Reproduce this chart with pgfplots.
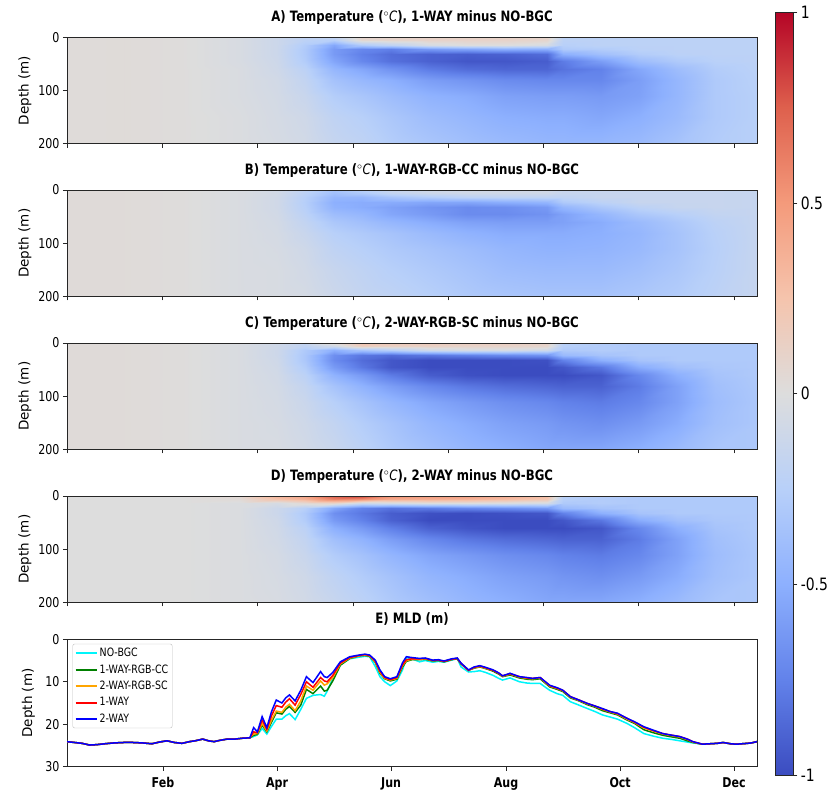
\documentclass[border=0pt]{standalone}
\usepackage{fontspec}
\setmainfont{DejaVu Sans}[FakeStretch=0.82]
\newfontfamily\ylfont{DejaVu Sans}
\usepackage{pgfplots}
\pgfplotsset{compat=1.18}

\definecolor{cNO}{RGB}{0,245,250}
\definecolor{cCC}{RGB}{0,128,0}
\definecolor{cSC}{RGB}{255,165,0}
\definecolor{cONE}{RGB}{255,0,0}
\definecolor{cTWO}{RGB}{0,0,255}

\pgfplotsset{
  colormap={coolwarm}{rgb255=(59,76,192) rgb255=(98,130,234) rgb255=(141,176,254)
    rgb255=(184,208,249) rgb255=(221,221,221) rgb255=(245,196,173)
    rgb255=(244,154,123) rgb255=(222,96,77) rgb255=(180,4,38)},
  base/.style={scale only axis, width=690pt, enlargelimits=false,
    tick align=outside, tick pos=left, major tick length=4pt,
    axis line style={black!85, line width=0.8pt},
    tick style={black!85, line width=0.8pt},
    /pgf/number format/assume math mode=true,
    tick label style={font=\fontsize{13.5}{15}\selectfont},
    title style={at={(0.5,1)}, anchor=base, yshift=9.5pt,
      font=\bfseries\fontsize{14.3}{16}\selectfont},
    every axis y label/.style={at={(axis description cs:-0.061,0.5)},
      rotate=90, anchor=center, font=\ylfont\fontsize{13.5}{15}\selectfont},
    ylabel={Depth (m)}},
  panel/.style={base, height=106.5pt, xmin=0, xmax=362, ymin=0, ymax=200,
    y dir=reverse, axis on top, xtick={0,50,...,350}, xticklabels={},
    ytick={0,100,200}, colormap name=coolwarm,
    point meta min=-1, point meta max=1},
  heat/.style={surf, shader=interp, point meta=explicit},
}
\newcommand\degC{(\textnormal{\textsuperscript{$\circ$}\textit{C}})}

\pgfplotstableread{
day  nobgc cc   sc   one  two
0    24.1 24.1 24.1 24.1 24.1
4    24.3 24.3 24.3 24.3 24.3
8    24.5 24.5 24.5 24.5 24.5
12   24.9 24.9 24.9 24.9 24.9
16   24.8 24.8 24.8 24.8 24.8
20   24.6 24.6 24.6 24.6 24.6
25   24.4 24.4 24.4 24.4 24.4
30   24.3 24.3 24.3 24.3 24.3
35   24.3 24.3 24.3 24.3 24.3
40   24.4 24.4 24.4 24.4 24.4
45   24.6 24.6 24.6 24.6 24.6
49   24.2 24.2 24.2 24.2 24.2
53   23.9 23.9 23.9 23.9 23.9
57   24.3 24.3 24.3 24.3 24.3
61   24.5 24.5 24.5 24.5 24.5
65   24.1 24.1 24.1 24.1 24.1
68   23.9 23.9 23.9 23.9 23.9
72   23.5 23.5 23.5 23.5 23.5
75   23.9 23.9 23.9 23.9 23.9
78   24.1 24.1 24.1 24.1 24.1
81   23.8 23.8 23.8 23.8 23.8
85   23.5 23.5 23.5 23.5 23.5
89   23.5 23.5 23.5 23.5 23.5
93   23.3 23.3 23.3 23.3 23.3
97   23.2 23.2 23.2 23.2 23.2
99   22.9 22.6 22.3 21.8 20.8
101  22.5 22.4 22.2 22.0 21.8
103.5 21.0 20.2 19.8 19.0 18.2
106  22.3 21.8 21.6 21.2 20.8
108.5 20.5 19.5 19.0 18.0 17.0
111  18.8 17.3 16.9 15.6 14.3
114  18.8 17.6 17.2 16.0 15.0
116  18.0 16.5 16.0 14.8 13.8
118  17.5 15.8 15.3 14.0 13.1
121  18.9 17.2 16.8 15.5 14.5
124  16.5 15.5 14.5 13.0 12.0
127  13.9 11.8 11.0 10.0 8.8
130.5 13.2 12.8 12.0 11.3 10.2
134.5 13.0 11.0 9.8 9.0 7.6
136.5 13.4 12.2 10.8 9.8 8.8
138  12.2 12.0 10.5 10.0 9.0
141  9.2  9.8  9.0  8.5  7.8
145  6.0  6.1  5.8  5.6  5.3
150  4.6  4.5  4.4  4.3  4.1
155  4.2  3.9  3.9  3.8  3.7
158  4.0  3.8  3.7  3.6  3.5
160.5 4.1 4.0  3.9  3.8  3.7
163.5 6.4 5.4  5.3  5.1  4.9
166  8.8  8.0  7.8  7.5  7.2
168.5 10.0 9.3 9.2  9.0  8.8
171.5 10.9 9.8 9.6  9.5  9.3
175  9.8  9.4  9.2  9.0  8.8
178  7.2  6.5  6.2  6.0  5.5
180  4.3  5.2  5.0  4.8  4.1
183  4.6  4.8  4.7  4.6  4.3
187  5.3  4.8  4.7  4.6  4.5
190  5.0  4.7  4.6  4.5  4.4
194  5.4  5.1  5.0  5.0  4.9
197  5.2  5.0  4.9  4.9  4.8
200  5.4  5.3  5.2  5.2  5.1
204  4.9  4.8  4.7  4.7  4.6
207  4.5  4.6  4.5  4.5  4.4
209  6.5  5.8  5.7  5.7  5.6
213  7.7  7.3  7.3  7.3  7.2
216  7.6  6.8  6.7  6.6  6.5
219  7.4  6.5  6.4  6.3  6.2
222  7.8  6.9  6.8  6.7  6.6
226  8.5  7.5  7.3  7.3  7.2
229  9.2  8.2  8.0  8.0  7.9
231  9.6  8.8  8.7  8.6  8.6
235  9.1  8.4  8.2  8.1  8.0
240  10.0 9.1  8.9  8.8  8.8
244  10.3 9.4  9.2  9.1  9.0
247  10.4 9.5  9.3  9.2  9.2
251  10.4 9.3  9.1  9.0  9.0
256  12.0 11.2 11.0 10.9 10.8
260  12.8 11.8 11.6 11.5 11.4
263  13.2 12.3 12.1 12.0 12.0
267  14.7 13.8 13.6 13.5 13.5
271  15.4 14.4 14.3 14.2 14.2
276  16.3 15.4 15.2 15.1 15.1
280  17.0 16.0 15.8 15.7 15.7
284  17.8 16.8 16.5 16.4 16.3
288  18.3 17.3 17.1 17.0 17.0
292  18.8 17.8 17.6 17.5 17.4
297  19.8 19.0 18.8 18.6 18.6
301  20.8 19.8 19.6 19.5 19.4
306  22.2 21.3 20.9 20.7 20.6
311  22.8 22.0 21.6 21.5 21.4
316  23.3 22.6 22.3 22.2 22.2
321  23.6 23.0 22.7 22.6 22.6
325  23.9 23.3 23.0 22.9 22.9
329  24.2 23.9 23.6 23.5 23.5
332  24.4 24.3 24.2 24.1 24.1
337  24.7 24.7 24.7 24.7 24.7
341  24.6 24.6 24.6 24.6 24.6
345  24.5 24.5 24.5 24.5 24.5
348  24.3 24.3 24.3 24.3 24.3
352  24.6 24.6 24.6 24.6 24.6
355  24.7 24.7 24.7 24.7 24.7
358  24.6 24.6 24.6 24.6 24.6
361  24.5 24.5 24.5 24.5 24.5
363  24.4 24.4 24.4 24.4 24.4
366  24.1 24.1 24.1 24.1 24.1
}\mld

\begin{document}
\begin{tikzpicture}
\useasboundingbox (0,0) rectangle (828pt,-791pt);

% A) 1-WAY minus NO-BGC
\begin{axis}[panel, at={(67pt,-37.3pt)}, anchor=north west,
  title={A) Temperature \degC, 1-WAY minus NO-BGC}]
\addplot[heat] coordinates {
(0,0)[0.02] (0,6)[0.02] (0,14)[0.02] (0,22)[0.02] (0,32)[0.02] (0,45)[0.02] (0,60)[0.02] (0,80)[0.02] (0,110)[0.02] (0,150)[0.02] (0,200)[0.02]

(30,0)[0.025] (30,6)[0.025] (30,14)[0.025] (30,22)[0.025] (30,32)[0.025] (30,45)[0.025] (30,60)[0.025] (30,80)[0.025] (30,110)[0.025] (30,150)[0.025] (30,200)[0.025]

(60,0)[0.01] (60,6)[0.01] (60,14)[0.01] (60,22)[0.01] (60,32)[0.01] (60,45)[0.01] (60,60)[0.01] (60,80)[0.01] (60,110)[0.01] (60,150)[0.01] (60,200)[0.01]

(90,0)[-0.04] (90,6)[-0.04] (90,14)[-0.04] (90,22)[-0.04] (90,32)[-0.04] (90,45)[-0.04] (90,60)[-0.03] (90,80)[-0.03] (90,110)[-0.03] (90,150)[-0.02] (90,200)[-0.02]

(110,0)[-0.12] (110,6)[-0.12] (110,14)[-0.12] (110,22)[-0.12] (110,32)[-0.12] (110,45)[-0.11] (110,60)[-0.1] (110,80)[-0.08] (110,110)[-0.07] (110,150)[-0.06] (110,200)[-0.05]

(125,0)[-0.2] (125,6)[-0.22] (125,14)[-0.28] (125,22)[-0.3] (125,32)[-0.3] (125,45)[-0.28] (125,60)[-0.22] (125,80)[-0.18] (125,110)[-0.14] (125,150)[-0.1] (125,200)[-0.08]

(140,0)[-0.18] (140,6)[-0.25] (140,14)[-0.55] (140,22)[-0.62] (140,32)[-0.62] (140,45)[-0.56] (140,60)[-0.45] (140,80)[-0.36] (140,110)[-0.27] (140,150)[-0.2] (140,200)[-0.16]

(155,0)[0.1] (155,6)[0.06] (155,14)[-0.3] (155,22)[-0.72] (155,32)[-0.76] (155,45)[-0.72] (155,60)[-0.55] (155,80)[-0.44] (155,110)[-0.33] (155,150)[-0.25] (155,200)[-0.2]

(170,0)[0.1] (170,6)[0.08] (170,14)[-0.2] (170,22)[-0.76] (170,32)[-0.85] (170,45)[-0.83] (170,60)[-0.66] (170,80)[-0.5] (170,110)[-0.4] (170,150)[-0.32] (170,200)[-0.27]

(190,0)[0.12] (190,6)[0.1] (190,14)[-0.05] (190,22)[-0.62] (190,32)[-0.9] (190,45)[-0.9] (190,60)[-0.78] (190,80)[-0.6] (190,110)[-0.48] (190,150)[-0.4] (190,200)[-0.33]

(210,0)[0.12] (210,6)[0.1] (210,14)[0] (210,22)[-0.56] (210,32)[-0.92] (210,45)[-0.95] (210,60)[-0.85] (210,80)[-0.65] (210,110)[-0.52] (210,150)[-0.45] (210,200)[-0.38]

(230,0)[0.12] (230,6)[0.1] (230,14)[0] (230,22)[-0.5] (230,32)[-0.9] (230,45)[-0.95] (230,60)[-0.88] (230,80)[-0.7] (230,110)[-0.58] (230,150)[-0.5] (230,200)[-0.42]

(252,0)[0.1] (252,6)[0.08] (252,14)[-0.05] (252,22)[-0.5] (252,32)[-0.85] (252,45)[-0.92] (252,60)[-0.88] (252,80)[-0.72] (252,110)[-0.6] (252,150)[-0.52] (252,200)[-0.45]

(260,0)[-0.22] (260,6)[-0.22] (260,14)[-0.25] (260,22)[-0.3] (260,32)[-0.5] (260,45)[-0.78] (260,60)[-0.82] (260,80)[-0.72] (260,110)[-0.6] (260,150)[-0.52] (260,200)[-0.45]

(280,0)[-0.22] (280,6)[-0.22] (280,14)[-0.22] (280,22)[-0.28] (280,32)[-0.38] (280,45)[-0.6] (280,60)[-0.75] (280,80)[-0.72] (280,110)[-0.62] (280,150)[-0.55] (280,200)[-0.45]

(300,0)[-0.22] (300,6)[-0.22] (300,14)[-0.22] (300,22)[-0.23] (300,32)[-0.28] (300,45)[-0.4] (300,60)[-0.55] (300,80)[-0.6] (300,110)[-0.58] (300,150)[-0.5] (300,200)[-0.42]

(320,0)[-0.22] (320,6)[-0.22] (320,14)[-0.22] (320,22)[-0.22] (320,32)[-0.23] (320,45)[-0.3] (320,60)[-0.4] (320,80)[-0.45] (320,110)[-0.45] (320,150)[-0.42] (320,200)[-0.35]

(340,0)[-0.22] (340,6)[-0.22] (340,14)[-0.22] (340,22)[-0.22] (340,32)[-0.22] (340,45)[-0.24] (340,60)[-0.28] (340,80)[-0.3] (340,110)[-0.3] (340,150)[-0.3] (340,200)[-0.28]

(362,0)[-0.22] (362,6)[-0.22] (362,14)[-0.22] (362,22)[-0.22] (362,32)[-0.22] (362,45)[-0.22] (362,60)[-0.23] (362,80)[-0.24] (362,110)[-0.25] (362,150)[-0.25] (362,200)[-0.25]
};
\end{axis}

% B) 1-WAY-RGB-CC minus NO-BGC
\begin{axis}[panel, at={(67pt,-190pt)}, anchor=north west,
  title={B) Temperature \degC, 1-WAY-RGB-CC minus NO-BGC}]
\addplot[heat] coordinates {
(0,0)[0.025] (0,6)[0.025] (0,14)[0.025] (0,22)[0.025] (0,32)[0.025] (0,45)[0.025] (0,60)[0.025] (0,80)[0.025] (0,110)[0.025] (0,150)[0.025] (0,200)[0.025]

(30,0)[0.025] (30,6)[0.025] (30,14)[0.025] (30,22)[0.025] (30,32)[0.025] (30,45)[0.025] (30,60)[0.025] (30,80)[0.025] (30,110)[0.025] (30,150)[0.025] (30,200)[0.025]

(60,0)[0.01] (60,6)[0.01] (60,14)[0.01] (60,22)[0.01] (60,32)[0.01] (60,45)[0.01] (60,60)[0.01] (60,80)[0.01] (60,110)[0.01] (60,150)[0.01] (60,200)[0.01]

(90,0)[-0.03] (90,6)[-0.03] (90,14)[-0.03] (90,22)[-0.03] (90,32)[-0.03] (90,45)[-0.03] (90,60)[-0.03] (90,80)[-0.03] (90,110)[-0.03] (90,150)[-0.03] (90,200)[-0.03]

(110,0)[-0.08] (110,6)[-0.08] (110,14)[-0.09] (110,22)[-0.09] (110,32)[-0.09] (110,45)[-0.08] (110,60)[-0.07] (110,80)[-0.06] (110,110)[-0.05] (110,150)[-0.04] (110,200)[-0.04]

(125,0)[-0.2] (125,6)[-0.22] (125,14)[-0.25] (125,22)[-0.26] (125,32)[-0.25] (125,45)[-0.22] (125,60)[-0.18] (125,80)[-0.14] (125,110)[-0.1] (125,150)[-0.08] (125,200)[-0.06]

(140,0)[-0.35] (140,6)[-0.38] (140,14)[-0.45] (140,22)[-0.5] (140,32)[-0.48] (140,45)[-0.4] (140,60)[-0.32] (140,80)[-0.25] (140,110)[-0.2] (140,150)[-0.15] (140,200)[-0.12]

(155,0)[-0.25] (155,6)[-0.3] (155,14)[-0.45] (155,22)[-0.52] (155,32)[-0.52] (155,45)[-0.45] (155,60)[-0.38] (155,80)[-0.3] (155,110)[-0.25] (155,150)[-0.2] (155,200)[-0.17]

(170,0)[-0.15] (170,6)[-0.18] (170,14)[-0.35] (170,22)[-0.52] (170,32)[-0.58] (170,45)[-0.55] (170,60)[-0.45] (170,80)[-0.35] (170,110)[-0.3] (170,150)[-0.25] (170,200)[-0.2]

(190,0)[-0.1] (190,6)[-0.12] (190,14)[-0.28] (190,22)[-0.55] (190,32)[-0.65] (190,45)[-0.62] (190,60)[-0.52] (190,80)[-0.42] (190,110)[-0.35] (190,150)[-0.3] (190,200)[-0.25]

(210,0)[-0.08] (210,6)[-0.1] (210,14)[-0.22] (210,22)[-0.55] (210,32)[-0.7] (210,45)[-0.7] (210,60)[-0.58] (210,80)[-0.48] (210,110)[-0.4] (210,150)[-0.35] (210,200)[-0.3]

(230,0)[-0.08] (230,6)[-0.1] (230,14)[-0.2] (230,22)[-0.5] (230,32)[-0.68] (230,45)[-0.7] (230,60)[-0.6] (230,80)[-0.52] (230,110)[-0.45] (230,150)[-0.4] (230,200)[-0.33]

(252,0)[-0.08] (252,6)[-0.1] (252,14)[-0.2] (252,22)[-0.45] (252,32)[-0.62] (252,45)[-0.66] (252,60)[-0.6] (252,80)[-0.52] (252,110)[-0.48] (252,150)[-0.42] (252,200)[-0.35]

(260,0)[-0.15] (260,6)[-0.15] (260,14)[-0.2] (260,22)[-0.3] (260,32)[-0.45] (260,45)[-0.58] (260,60)[-0.58] (260,80)[-0.52] (260,110)[-0.48] (260,150)[-0.42] (260,200)[-0.35]

(280,0)[-0.15] (280,6)[-0.15] (280,14)[-0.15] (280,22)[-0.22] (280,32)[-0.32] (280,45)[-0.45] (280,60)[-0.52] (280,80)[-0.5] (280,110)[-0.47] (280,150)[-0.42] (280,200)[-0.35]

(300,0)[-0.15] (300,6)[-0.15] (300,14)[-0.15] (300,22)[-0.15] (300,32)[-0.22] (300,45)[-0.32] (300,60)[-0.42] (300,80)[-0.45] (300,110)[-0.43] (300,150)[-0.38] (300,200)[-0.32]

(320,0)[-0.15] (320,6)[-0.15] (320,14)[-0.15] (320,22)[-0.15] (320,32)[-0.16] (320,45)[-0.25] (320,60)[-0.32] (320,80)[-0.35] (320,110)[-0.35] (320,150)[-0.32] (320,200)[-0.28]

(340,0)[-0.15] (340,6)[-0.15] (340,14)[-0.15] (340,22)[-0.15] (340,32)[-0.15] (340,45)[-0.18] (340,60)[-0.22] (340,80)[-0.24] (340,110)[-0.25] (340,150)[-0.24] (340,200)[-0.22]

(362,0)[-0.16] (362,6)[-0.16] (362,14)[-0.16] (362,22)[-0.16] (362,32)[-0.16] (362,45)[-0.16] (362,60)[-0.16] (362,80)[-0.16] (362,110)[-0.16] (362,150)[-0.16] (362,200)[-0.16]
};
\end{axis}

% C) 2-WAY-RGB-SC minus NO-BGC
\begin{axis}[panel, at={(67pt,-343pt)}, anchor=north west,
  title={C) Temperature \degC, 2-WAY-RGB-SC minus NO-BGC}]
\addplot[heat] coordinates {
(0,0)[0.025] (0,6)[0.025] (0,14)[0.025] (0,22)[0.025] (0,32)[0.025] (0,45)[0.025] (0,60)[0.025] (0,80)[0.025] (0,110)[0.025] (0,150)[0.025] (0,200)[0.025]

(30,0)[0.025] (30,6)[0.025] (30,14)[0.025] (30,22)[0.025] (30,32)[0.025] (30,45)[0.025] (30,60)[0.025] (30,80)[0.025] (30,110)[0.025] (30,150)[0.025] (30,200)[0.025]

(60,0)[0.01] (60,6)[0.01] (60,14)[0.01] (60,22)[0.01] (60,32)[0.01] (60,45)[0.01] (60,60)[0.01] (60,80)[0.01] (60,110)[0.01] (60,150)[0.01] (60,200)[0.01]

(90,0)[-0.03] (90,6)[-0.03] (90,14)[-0.03] (90,22)[-0.03] (90,32)[-0.03] (90,45)[-0.03] (90,60)[-0.03] (90,80)[-0.03] (90,110)[-0.03] (90,150)[-0.03] (90,200)[-0.03]

(110,0)[-0.1] (110,6)[-0.1] (110,14)[-0.11] (110,22)[-0.11] (110,32)[-0.1] (110,45)[-0.09] (110,60)[-0.08] (110,80)[-0.07] (110,110)[-0.06] (110,150)[-0.05] (110,200)[-0.04]

(125,0)[-0.18] (125,6)[-0.2] (125,14)[-0.3] (125,22)[-0.32] (125,32)[-0.32] (125,45)[-0.28] (125,60)[-0.22] (125,80)[-0.17] (125,110)[-0.13] (125,150)[-0.1] (125,200)[-0.08]

(140,0)[0.05] (140,6)[-0.1] (140,14)[-0.5] (140,22)[-0.68] (140,32)[-0.7] (140,45)[-0.62] (140,60)[-0.48] (140,80)[-0.35] (140,110)[-0.25] (140,150)[-0.18] (140,200)[-0.14]

(155,0)[0.25] (155,6)[0.15] (155,14)[-0.35] (155,22)[-0.8] (155,32)[-0.85] (155,45)[-0.8] (155,60)[-0.62] (155,80)[-0.48] (155,110)[-0.35] (155,150)[-0.27] (155,200)[-0.22]

(170,0)[0.2] (170,6)[0.12] (170,14)[-0.25] (170,22)[-0.85] (170,32)[-0.95] (170,45)[-0.95] (170,60)[-0.78] (170,80)[-0.6] (170,110)[-0.45] (170,150)[-0.35] (170,200)[-0.3]

(190,0)[0.18] (190,6)[0.12] (190,14)[-0.1] (190,22)[-0.8] (190,32)[-1] (190,45)[-1] (190,60)[-0.92] (190,80)[-0.72] (190,110)[-0.55] (190,150)[-0.45] (190,200)[-0.38]

(210,0)[0.15] (210,6)[0.1] (210,14)[-0.05] (210,22)[-0.75] (210,32)[-1] (210,45)[-1] (210,60)[-0.98] (210,80)[-0.8] (210,110)[-0.62] (210,150)[-0.52] (210,200)[-0.45]

(230,0)[0.15] (230,6)[0.1] (230,14)[-0.05] (230,22)[-0.7] (230,32)[-1] (230,45)[-1] (230,60)[-1] (230,80)[-0.85] (230,110)[-0.68] (230,150)[-0.58] (230,200)[-0.5]

(252,0)[0.12] (252,6)[0.08] (252,14)[-0.1] (252,22)[-0.65] (252,32)[-0.98] (252,45)[-1] (252,60)[-1] (252,80)[-0.88] (252,110)[-0.72] (252,150)[-0.62] (252,200)[-0.55]

(260,0)[-0.25] (260,6)[-0.25] (260,14)[-0.3] (260,22)[-0.42] (260,32)[-0.75] (260,45)[-0.95] (260,60)[-1] (260,80)[-0.9] (260,110)[-0.75] (260,150)[-0.65] (260,200)[-0.55]

(280,0)[-0.28] (280,6)[-0.28] (280,14)[-0.28] (280,22)[-0.35] (280,32)[-0.5] (280,45)[-0.8] (280,60)[-0.95] (280,80)[-0.9] (280,110)[-0.78] (280,150)[-0.68] (280,200)[-0.55]

(300,0)[-0.3] (300,6)[-0.3] (300,14)[-0.3] (300,22)[-0.3] (300,32)[-0.35] (300,45)[-0.52] (300,60)[-0.72] (300,80)[-0.78] (300,110)[-0.72] (300,150)[-0.62] (300,200)[-0.5]

(320,0)[-0.3] (320,6)[-0.3] (320,14)[-0.3] (320,22)[-0.3] (320,32)[-0.3] (320,45)[-0.38] (320,60)[-0.5] (320,80)[-0.58] (320,110)[-0.58] (320,150)[-0.52] (320,200)[-0.42]

(340,0)[-0.3] (340,6)[-0.3] (340,14)[-0.3] (340,22)[-0.3] (340,32)[-0.3] (340,45)[-0.32] (340,60)[-0.35] (340,80)[-0.38] (340,110)[-0.4] (340,150)[-0.38] (340,200)[-0.33]

(362,0)[-0.3] (362,6)[-0.3] (362,14)[-0.3] (362,22)[-0.3] (362,32)[-0.3] (362,45)[-0.3] (362,60)[-0.3] (362,80)[-0.31] (362,110)[-0.32] (362,150)[-0.32] (362,200)[-0.32]
};
\end{axis}

% D) 2-WAY minus NO-BGC
\begin{axis}[panel, at={(67pt,-496pt)}, anchor=north west,
  title={D) Temperature \degC, 2-WAY minus NO-BGC}]
\addplot[heat] coordinates {
(0,0)[0] (0,6)[0] (0,14)[0] (0,22)[0] (0,32)[0] (0,45)[0] (0,60)[0] (0,80)[0] (0,110)[0] (0,150)[0] (0,200)[0]

(30,0)[0] (30,6)[0] (30,14)[0] (30,22)[0] (30,32)[0] (30,45)[0] (30,60)[0] (30,80)[0] (30,110)[0] (30,150)[0] (30,200)[0]

(60,0)[0] (60,6)[0] (60,14)[0] (60,22)[0] (60,32)[0] (60,45)[0] (60,60)[0] (60,80)[0] (60,110)[0] (60,150)[0] (60,200)[0]

(90,0)[0.05] (90,6)[0.03] (90,14)[-0.02] (90,22)[-0.02] (90,32)[-0.02] (90,45)[-0.02] (90,60)[-0.02] (90,80)[-0.02] (90,110)[-0.02] (90,150)[-0.02] (90,200)[-0.02]

(110,0)[0.35] (110,6)[0.25] (110,14)[-0.05] (110,22)[-0.12] (110,32)[-0.12] (110,45)[-0.1] (110,60)[-0.09] (110,80)[-0.08] (110,110)[-0.06] (110,150)[-0.05] (110,200)[-0.04]

(125,0)[0.45] (125,6)[0.35] (125,14)[0.05] (125,22)[-0.25] (125,32)[-0.3] (125,45)[-0.28] (125,60)[-0.22] (125,80)[-0.18] (125,110)[-0.14] (125,150)[-0.1] (125,200)[-0.08]

(140,0)[0.75] (140,6)[0.6] (140,14)[0.1] (140,22)[-0.55] (140,32)[-0.68] (140,45)[-0.62] (140,60)[-0.5] (140,80)[-0.38] (140,110)[-0.28] (140,150)[-0.2] (140,200)[-0.15]

(155,0)[0.85] (155,6)[0.55] (155,14)[-0.1] (155,22)[-0.75] (155,32)[-0.8] (155,45)[-0.75] (155,60)[-0.62] (155,80)[-0.48] (155,110)[-0.36] (155,150)[-0.28] (155,200)[-0.22]

(170,0)[0.55] (170,6)[0.4] (170,14)[-0.05] (170,22)[-0.82] (170,32)[-0.92] (170,45)[-0.9] (170,60)[-0.76] (170,80)[-0.6] (170,110)[-0.46] (170,150)[-0.36] (170,200)[-0.3]

(190,0)[0.5] (190,6)[0.38] (190,14)[0] (190,22)[-0.78] (190,32)[-0.98] (190,45)[-1] (190,60)[-0.9] (190,80)[-0.72] (190,110)[-0.56] (190,150)[-0.46] (190,200)[-0.38]

(210,0)[0.48] (210,6)[0.35] (210,14)[0] (210,22)[-0.72] (210,32)[-1] (210,45)[-1] (210,60)[-0.96] (210,80)[-0.8] (210,110)[-0.62] (210,150)[-0.52] (210,200)[-0.45]

(230,0)[0.4] (230,6)[0.3] (230,14)[-0.02] (230,22)[-0.68] (230,32)[-0.98] (230,45)[-1] (230,60)[-1] (230,80)[-0.85] (230,110)[-0.68] (230,150)[-0.58] (230,200)[-0.5]

(252,0)[0.3] (252,6)[0.22] (252,14)[-0.05] (252,22)[-0.62] (252,32)[-0.95] (252,45)[-1] (252,60)[-1] (252,80)[-0.88] (252,110)[-0.72] (252,150)[-0.62] (252,200)[-0.55]

(260,0)[-0.25] (260,6)[-0.25] (260,14)[-0.3] (260,22)[-0.42] (260,32)[-0.75] (260,45)[-0.95] (260,60)[-1] (260,80)[-0.9] (260,110)[-0.75] (260,150)[-0.65] (260,200)[-0.55]

(280,0)[-0.28] (280,6)[-0.28] (280,14)[-0.28] (280,22)[-0.35] (280,32)[-0.5] (280,45)[-0.8] (280,60)[-0.95] (280,80)[-0.9] (280,110)[-0.78] (280,150)[-0.68] (280,200)[-0.55]

(300,0)[-0.3] (300,6)[-0.3] (300,14)[-0.3] (300,22)[-0.3] (300,32)[-0.35] (300,45)[-0.52] (300,60)[-0.72] (300,80)[-0.78] (300,110)[-0.72] (300,150)[-0.62] (300,200)[-0.5]

(320,0)[-0.3] (320,6)[-0.3] (320,14)[-0.3] (320,22)[-0.3] (320,32)[-0.3] (320,45)[-0.38] (320,60)[-0.5] (320,80)[-0.58] (320,110)[-0.58] (320,150)[-0.52] (320,200)[-0.42]

(340,0)[-0.3] (340,6)[-0.3] (340,14)[-0.3] (340,22)[-0.3] (340,32)[-0.3] (340,45)[-0.32] (340,60)[-0.35] (340,80)[-0.38] (340,110)[-0.4] (340,150)[-0.38] (340,200)[-0.33]

(362,0)[-0.3] (362,6)[-0.3] (362,14)[-0.3] (362,22)[-0.3] (362,32)[-0.3] (362,45)[-0.3] (362,60)[-0.3] (362,80)[-0.31] (362,110)[-0.32] (362,150)[-0.32] (362,200)[-0.32]
};
\end{axis}

% E) MLD
\begin{axis}[base, at={(67pt,-639.3pt)}, anchor=north west, height=127.4pt,
  title={E) MLD (m)},
  xmin=0, xmax=366, ymin=0, ymax=30, y dir=reverse,
  ytick={0,10,20,30},
  xtick={50.9,111.4,171.9,232.9,293.4,353.8},
  xticklabels={Feb,Apr,Jun,Aug,Oct,Dec},
  xticklabel style={font=\bfseries\fontsize{13.5}{15}\selectfont, yshift=-3pt},
  every axis y label/.style={at={(axis description cs:-0.056,0.5)},
    rotate=90, anchor=center, font=\ylfont\fontsize{13.5}{15}\selectfont},
  legend cell align=left,
  legend style={at={(0.008,0.965)}, anchor=north west, draw=black!25,
    rounded corners=2pt, font=\fontsize{11.5}{13}\selectfont,
    inner sep=2pt, row sep=2.5pt},
  legend image code/.code={\draw[#1, line width=2pt] (0pt,0pt) -- (21pt,0pt);}]
\addplot[cNO, line width=1.5pt] table[x=day, y=nobgc] {\mld};
\addlegendentry{NO-BGC}
\addplot[cCC, line width=1.5pt] table[x=day, y=cc] {\mld};
\addlegendentry{1-WAY-RGB-CC}
\addplot[cSC, line width=1.5pt] table[x=day, y=sc] {\mld};
\addlegendentry{2-WAY-RGB-SC}
\addplot[cONE, line width=1.5pt] table[x=day, y=one] {\mld};
\addlegendentry{1-WAY}
\addplot[cTWO, line width=1.5pt] table[x=day, y=two] {\mld};
\addlegendentry{2-WAY}
\end{axis}

% colorbar
\begin{axis}[scale only axis, at={(775pt,-12.3pt)}, anchor=north west,
  width=18.3pt, height=763pt, xmin=0, xmax=1, ymin=-1, ymax=1,
  enlargelimits=false, axis on top, xtick=\empty,
  ytick={-1,-0.5,0,0.5,1}, yticklabels={-1,-0.5,0,0.5,1},
  ytick pos=right, yticklabel pos=right, tick align=outside,
  major tick length=4pt,
  axis line style={black!85, line width=0.8pt},
  tick style={black!85, line width=0.8pt},
  yticklabel style={font=\fontsize{17}{19}\selectfont},
  colormap name=coolwarm, point meta min=-1, point meta max=1]
\addplot[surf, shader=interp, point meta=y] coordinates {
(0,-1) (1,-1)

(0,1) (1,1)
};
\end{axis}
\end{tikzpicture}
\end{document}
